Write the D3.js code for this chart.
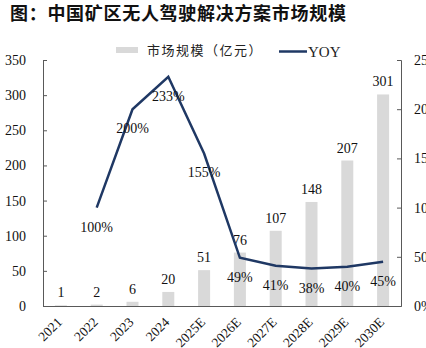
<!DOCTYPE html>
<html>
<head>
<meta charset="utf-8">
<script src="https://cdn.jsdelivr.net/npm/d3@7/dist/d3.min.js"></script>
<style>
  html, body { margin: 0; padding: 0; background: #fff; }
  svg { display: block; }
</style>
</head>
<body>
<svg id="chart" width="426" height="348"></svg>
<script>
// Mining-area autonomous driving solution market size and YOY growth
const years = ["2021", "2022", "2023", "2024", "2025E", "2026E", "2027E", "2028E", "2029E", "2030E"];
const marketSize = [1, 2, 6, 20, 51, 76, 107, 148, 207, 301];
const yoy = [null, 100, 200, 233, 155, 49, 41, 38, 40, 45];
const leftTicks = [0, 50, 100, 150, 200, 250, 300, 350];
const rightTicks = [0, 50, 100, 150, 200, 250];

(function () {
  const svg = d3.select("#chart");
  const serif = "'Liberation Serif', 'Times New Roman', serif";
  const cjk = "'Noto Sans CJK SC', sans-serif";

  const plotLeft = 43, plotRight = 401, plotTop = 60, plotBottom = 306;

  const x = d3.scaleBand().domain(years).range([plotLeft, plotRight]);
  const yL = d3.scaleLinear().domain([0, 350]).range([plotBottom, plotTop]);
  const yR = d3.scaleLinear().domain([0, 250]).range([plotBottom, plotTop]);

  // Title
  svg.append("text")
    .attr("x", 10).attr("y", 20)
    .attr("font-family", cjk).attr("font-weight", 700)
    .attr("font-size", 18).attr("letter-spacing", 0.7).attr("fill", "#111")
    .text("图：中国矿区无人驾驶解决方案市场规模");

  // Legend
  const lg = svg.append("g");
  lg.append("rect").attr("x", 116).attr("y", 47).attr("width", 22).attr("height", 6).attr("fill", "#d9d9d9");
  lg.append("text").attr("x", 147).attr("y", 55)
    .attr("font-family", cjk).attr("font-size", 13).attr("letter-spacing", 1.5).attr("fill", "#222")
    .text("市场规模（亿元）");
  lg.append("line").attr("x1", 279).attr("x2", 307).attr("y1", 51.5).attr("y2", 51.5)
    .attr("stroke", "#1f3864").attr("stroke-width", 2.5);
  lg.append("text").attr("x", 308).attr("y", 57)
    .attr("font-family", serif).attr("font-size", 15).attr("fill", "#222")
    .text("YOY");

  // Bars
  svg.append("g").selectAll("rect").data(years).join("rect")
    .attr("x", d => x(d) + x.bandwidth() / 2 - 6)
    .attr("width", 12)
    .attr("y", (d, i) => yL(marketSize[i]))
    .attr("height", (d, i) => plotBottom - yL(marketSize[i]))
    .attr("fill", "#d9d9d9");

  // Bar value labels
  svg.append("g").selectAll("text").data(years).join("text")
    .attr("x", d => x(d) + x.bandwidth() / 2)
    .attr("y", (d, i) => yL(marketSize[i]) - 8)
    .attr("text-anchor", "middle")
    .attr("font-family", serif).attr("font-size", 14).attr("fill", "#111")
    .text((d, i) => marketSize[i]);

  // Axes
  const axisColor = "#595959";
  const gL = svg.append("g").attr("transform", `translate(${plotLeft},0)`)
    .call(d3.axisLeft(yL).tickValues(leftTicks).tickSize(-4).tickPadding(17));
  const gR = svg.append("g").attr("transform", `translate(${plotRight},0)`)
    .call(d3.axisRight(yR).tickValues(rightTicks).tickSize(-4).tickPadding(13).tickFormat(d => d + "%"));
  [gL, gR].forEach(g => {
    g.select(".domain").attr("stroke", axisColor).attr("stroke-width", 1);
    g.selectAll(".tick line").attr("stroke", axisColor);
    g.selectAll(".tick text").attr("font-family", serif).attr("font-size", 14).attr("fill", "#111");
  });

  const gX = svg.append("g").attr("transform", `translate(0,${plotBottom})`)
    .call(d3.axisBottom(x).tickSize(0).tickPadding(0));
  gX.select(".domain").attr("stroke", axisColor);
  gX.selectAll(".tick text")
    .attr("font-family", serif).attr("font-size", 13.5).attr("fill", "#111")
    .attr("text-anchor", "end")
    .attr("y", 0)
    .attr("dy", 0)
    .attr("transform", "translate(2,17) rotate(-45)");

  // YOY line
  const pts = years.map((d, i) => ({ d, v: yoy[i] })).filter(p => p.v !== null);
  svg.append("path").datum(pts)
    .attr("fill", "none").attr("stroke", "#1f3864").attr("stroke-width", 2.5)
    .attr("stroke-linejoin", "miter")
    .attr("d", d3.line().x(p => x(p.d) + x.bandwidth() / 2).y(p => yR(p.v)));

  // YOY labels
  svg.append("g").selectAll("text").data(pts).join("text")
    .attr("x", p => x(p.d) + x.bandwidth() / 2)
    .attr("y", p => yR(p.v) + 24)
    .attr("text-anchor", "middle")
    .attr("font-family", serif).attr("font-size", 14).attr("fill", "#111")
    .text(p => p.v + "%");
})();
</script>
</body>
</html>
